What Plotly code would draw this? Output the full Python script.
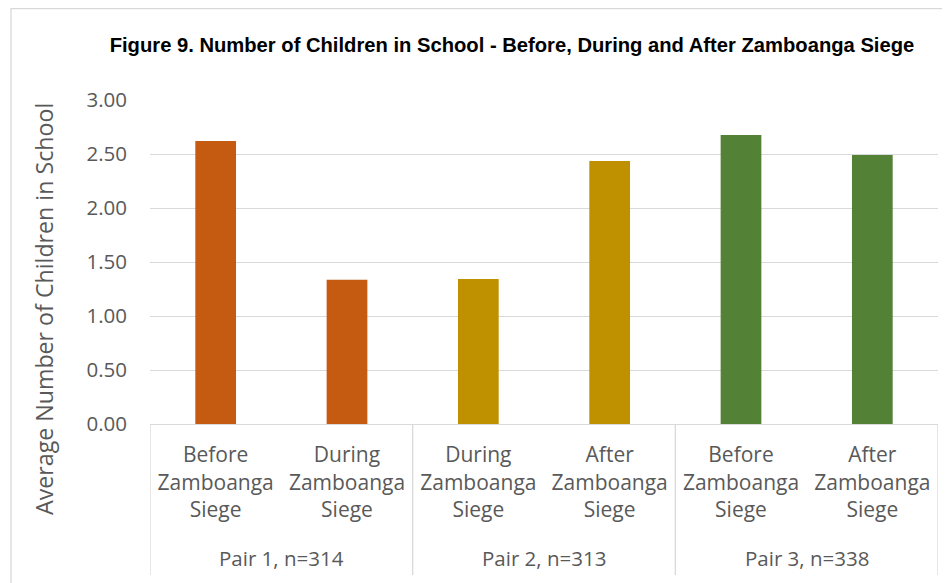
import plotly.graph_objects as go

pair_labels = ["Pair 1, n=314", "Pair 2, n=313", "Pair 3, n=338"]
periods = ["Before<br>Zamboanga<br>Siege", "During<br>Zamboanga<br>Siege",
           "During<br>Zamboanga<br>Siege", "After<br>Zamboanga<br>Siege",
           "Before<br>Zamboanga<br>Siege", "After<br>Zamboanga<br>Siege"]
values = [2.62, 1.335, 1.343, 2.435, 2.676, 2.49]
colors = ["#C55A11", "#C55A11", "#BF9000", "#BF9000", "#538135", "#538135"]

xpos = list(range(len(values)))
GRID = "#D9D9D9"
TXT = "#595959"
FONT = "Open Sans, Noto Sans, sans-serif"

fig = go.Figure(go.Bar(x=xpos, y=values, marker_color=colors, marker_line_width=0, width=0.31))

fig.update_layout(
    width=950, height=583,
    margin=dict(l=142, r=20, t=92, b=167, autoexpand=False),
    paper_bgcolor="white", plot_bgcolor="white",
    showlegend=False,
    title=dict(text="<b>Figure 9. Number of Children in School - Before, During and After Zamboanga Siege</b>",
               x=0.5305, xanchor="center", y=1 - 37 / 583, yanchor="middle",
               font=dict(family="Liberation Sans Narrow, Liberation Sans, Arial, sans-serif", size=20.2, color="black")),
    font=dict(family=FONT, size=20, color=TXT),
)
fig.update_yaxes(range=[0, 3], dtick=0.5, tickformat=".2f", showgrid=True, gridcolor=GRID,
                 gridwidth=1.3, zeroline=False, showline=False, ticks="", ticklabelstandoff=22,
                 tickfont=dict(size=20.5, color=TXT), automargin=False)
fig.update_xaxes(range=[-0.5, 5.5], tickvals=xpos, ticktext=periods, showgrid=False, zeroline=False,
                 showline=True, linecolor=GRID, linewidth=1.3, ticks="", ticklabelstandoff=12,
                 tickfont=dict(size=21, color=TXT), automargin=False)

# y-axis title
fig.add_annotation(text="Average Number of Children in School", textangle=-90, xref="paper", yref="paper",
                   x=(44 - 150) / 788, y=(424 - 309) / 324, xanchor="center", yanchor="middle",
                   showarrow=False, font=dict(family=FONT, size=23.2, color=TXT))

# group dividers and group labels
for b in [-0.5, 1.5, 3.5, 5.5]:
    fig.add_shape(type="line", xref="x", yref="paper", x0=b, x1=b, y0=0, y1=(424 - 575) / 324,
                  line=dict(color=GRID, width=1.3))
for i, lab in enumerate(pair_labels):
    fig.add_annotation(text=lab, xref="x", yref="paper", x=2 * i + 0.5, y=(424 - 558) / 324,
                       xanchor="center", yanchor="middle", showarrow=False,
                       font=dict(family=FONT, size=20.5, color=TXT))

# chart border
fig.add_shape(type="rect", xref="paper", yref="paper",
              x0=(3 - 142) / 788, x1=1.1, y0=-0.7, y1=(416 - 0.7) / 324,
              line=dict(color=GRID, width=1.3), fillcolor="rgba(0,0,0,0)", layer="below")
fig.write_html("out.html")
